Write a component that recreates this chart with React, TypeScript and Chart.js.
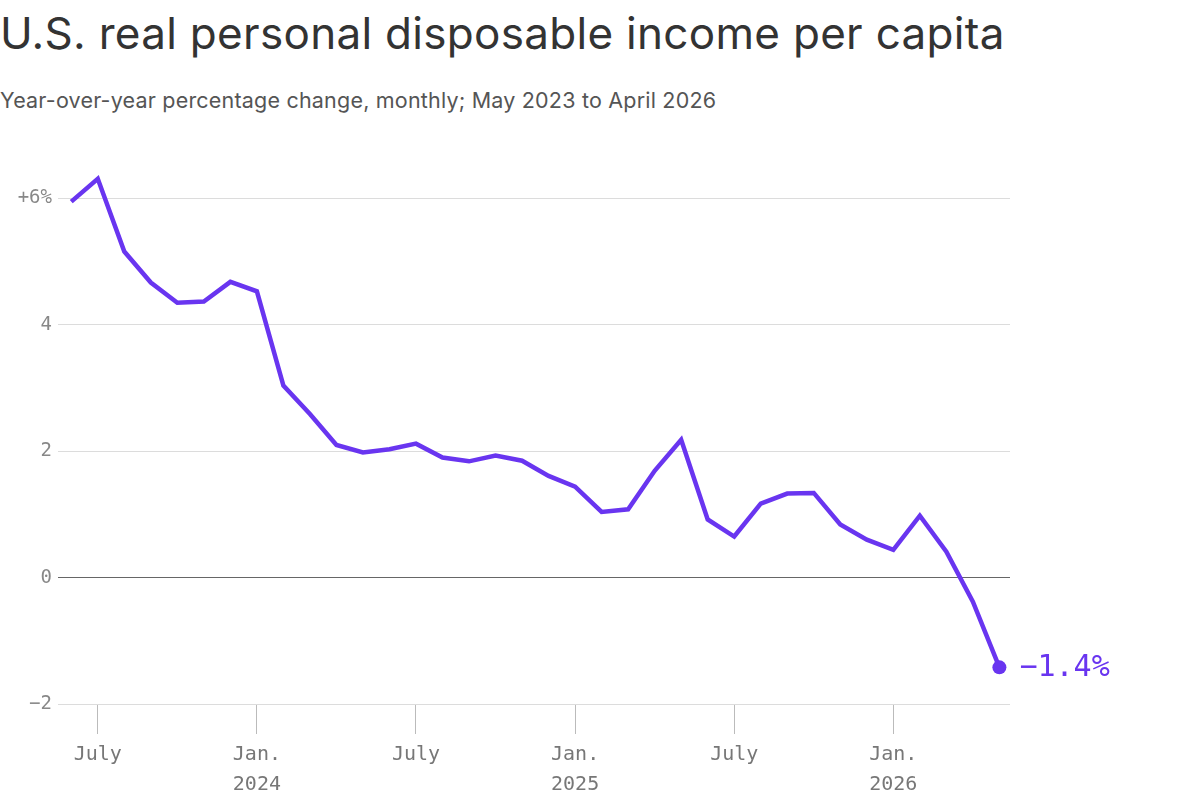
import React, { useEffect, useRef } from "react";
import { Chart, registerables } from "chart.js";
Chart.register(...registerables);

const months = ["May 2023","Jun 2023","Jul 2023","Aug 2023","Sep 2023","Oct 2023","Nov 2023","Dec 2023","Jan 2024","Feb 2024","Mar 2024","Apr 2024","May 2024","Jun 2024","Jul 2024","Aug 2024","Sep 2024","Oct 2024","Nov 2024","Dec 2024","Jan 2025","Feb 2025","Mar 2025","Apr 2025","May 2025","Jun 2025","Jul 2025","Aug 2025","Sep 2025","Oct 2025","Nov 2025","Dec 2025","Jan 2026","Feb 2026","Mar 2026","Apr 2026"];
const values = [5.95,6.31,5.16,4.67,4.35,4.37,4.68,4.53,3.04,2.59,2.10,1.98,2.03,2.12,1.90,1.84,1.93,1.85,1.61,1.44,1.04,1.08,1.69,2.18,0.92,0.65,1.17,1.33,1.34,0.84,0.60,0.44,0.98,0.41,-0.38,-1.42];
const xTickIndex = [1, 7, 13, 19, 25, 31];
const xTickLabels: (string | string[])[] = ["July", ["Jan.", "2024"], "July", ["Jan.", "2025"], "July", ["Jan.", "2026"]];
const yTicks = [-2, 0, 2, 4, 6];
const yTickLabels = ["\u22122", "0", "2", "4", "+6%"];
const endLabel = "\u22121.4%";
const PURPLE = "#6935f0";

export default function App() {
  const ref = useRef<HTMLCanvasElement>(null);
  useEffect(() => {
    document.body.style.margin = "0";
    const data = values.map((v, i) => ({ x: i, y: v }));
    const endPlugin = {
      id: "endLabel",
      afterDatasetsDraw(chart: any) {
        const meta = chart.getDatasetMeta(0);
        const p = meta.data[meta.data.length - 1];
        const ctx = chart.ctx;
        ctx.save();
        ctx.fillStyle = PURPLE;
        ctx.font = "30px 'DejaVu Sans Mono'";
        ctx.textBaseline = "middle";
        ctx.fillText(endLabel, p.x + 20, p.y + 1);
        ctx.restore();
      },
    };
    const chart = new Chart(ref.current!, {
      type: "line",
      data: {
        datasets: [{
          data,
          borderColor: PURPLE,
          borderWidth: 4.5,
          tension: 0,
          pointRadius: data.map((_, i) => (i === data.length - 1 ? 7 : 0)),
          pointBackgroundColor: PURPLE,
          pointBorderWidth: 0,
        }],
      },
      options: {
        animation: false,
        responsive: false,
        layout: { padding: { top: 30, right: 190, left: 0, bottom: 0 } },
        plugins: { legend: { display: false }, tooltip: { enabled: false } },
        scales: {
          x: {
            type: "linear",
            min: -0.5,
            max: 35.4,
            afterBuildTicks: (s: any) => { s.ticks = xTickIndex.map((v) => ({ value: v })); },
            afterFit: (s: any) => { s.height = 108; },
            border: { display: false },
            grid: { drawOnChartArea: false, tickLength: 30, color: "#bbb", lineWidth: 1 },
            ticks: {
              autoSkip: false,
              maxRotation: 0,
              padding: 6,
              color: "#777",
              font: { family: "'DejaVu Sans Mono'", size: 20, lineHeight: 1.5 },
              callback: (v: any) => xTickLabels[xTickIndex.indexOf(Number(v))] ?? "",
            },
          },
          y: {
            min: -2,
            max: 6.45,
            afterBuildTicks: (s: any) => { s.ticks = yTicks.map((v) => ({ value: v })); },
            afterFit: (s: any) => { s.width = 58; },
            border: { display: false },
            grid: {
              tickLength: 0,
              color: (c: any) => (c.tick && c.tick.value === 0 ? "#666" : "#dcdcdc"),
              lineWidth: 1,
            },
            ticks: {
              padding: 6,
              color: "#888",
              font: { family: "'DejaVu Sans Mono'", size: 19 },
              callback: (v: any) => yTickLabels[yTicks.indexOf(Number(v))] ?? "",
            },
          },
        },
      },
      plugins: [endPlugin],
    } as any);
    return () => chart.destroy();
  }, []);
  return (
    <div style={{ position: "relative", width: 1200, height: 812, fontFamily: "Inter, 'Noto Sans', sans-serif" }}>
      <div style={{ position: "absolute", left: 0, top: 6, fontSize: 44, color: "#333", letterSpacing: 0.3, whiteSpace: "nowrap" }}>
        U.S. real personal disposable income per capita
      </div>
      <div style={{ position: "absolute", left: 0, top: 87, fontSize: 21.5, color: "#555", letterSpacing: 0.2, whiteSpace: "nowrap" }}>
        Year-over-year percentage change, monthly; May 2023 to April 2026
      </div>
      <canvas ref={ref} width={1200} height={672} style={{ position: "absolute", left: 0, top: 140 }} />
    </div>
  );
}
